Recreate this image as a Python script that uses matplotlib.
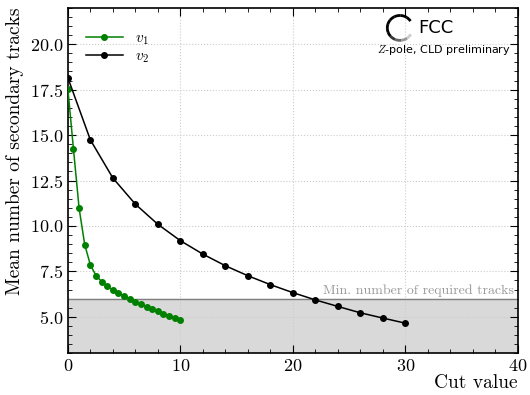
import numpy as np
import matplotlib
matplotlib.use("Agg")
import matplotlib.pyplot as plt
from matplotlib.patches import Arc
from matplotlib.ticker import MultipleLocator

plt.rcParams['font.family'] = 'serif'
plt.rcParams['font.serif'] = ['cmr10']
plt.rcParams['mathtext.fontset'] = 'cm'
plt.rcParams['axes.formatter.use_mathtext'] = True

# Data
v1_x = [0, 0.5, 1, 1.5, 2, 2.5, 3, 3.5, 4, 4.5, 5, 5.5, 6, 6.5, 7, 7.5, 8, 8.5, 9, 9.5, 10]
v1_y = [17.55, 14.23, 10.98, 8.97, 7.86, 7.27, 6.94, 6.68, 6.48, 6.31, 6.15,
        6.00, 5.83, 5.68, 5.56, 5.43, 5.30, 5.17, 5.06, 4.95, 4.84]
v2_x = [0, 2, 4, 6, 8, 10, 12, 14, 16, 18, 20, 22, 24, 26, 28, 30]
v2_y = [18.16, 14.74, 12.64, 11.20, 10.09, 9.19, 8.45, 7.81, 7.26, 6.77,
        6.33, 5.93, 5.57, 5.22, 4.93, 4.65]
min_required = 6.0

fig = plt.figure(figsize=(5.3, 3.95), dpi=100)
ax = fig.add_axes([0.128, 0.106, 0.849, 0.874])

ax.axhspan(3, min_required, color='#d9d9d9', zorder=0)
ax.axhline(min_required, color='#808080', lw=1.0, zorder=1)
ax.text(39.7, min_required + 0.08, 'Min. number of required tracks', color='#999999',
        ha='right', va='bottom', fontsize=10)

ax.plot(v1_x, v1_y, color='green', marker='o', ms=4, lw=1.1, label=r'$v_1$', zorder=3)
ax.plot(v2_x, v2_y, color='black', marker='o', ms=4, lw=1.1, label=r'$v_2$', zorder=3)

ax.set_xlim(0, 40)
ax.set_ylim(3, 22)
ax.xaxis.set_major_locator(MultipleLocator(10))
ax.xaxis.set_minor_locator(MultipleLocator(2))
ax.yaxis.set_major_locator(MultipleLocator(2.5))
ax.yaxis.set_minor_locator(MultipleLocator(0.5))
ax.tick_params(which='both', direction='in', top=True, right=True, labelsize=13)
ax.tick_params(which='major', length=6)
ax.tick_params(which='minor', length=3)
ax.grid(True, which='major', ls=':', color='#cccccc', lw=0.8)
ax.set_axisbelow(True)
for s in ax.spines.values():
    s.set_linewidth(1.2)

ax.set_xlabel('Cut value', fontsize=14, loc='right', labelpad=0)
ax.set_ylabel('Mean number of secondary tracks', fontsize=14, loc='top')

ax.legend(loc='upper left', frameon=False, fontsize=11, bbox_to_anchor=(0.01, 0.97),
          handlelength=2.4, labelspacing=0.15)

# FCC logo
for i in range(12):
    a0 = 40 + i * 23.5
    g = min(0.85, (i - 7) * 0.2) if i > 7 else 0.0
    ax.add_patch(Arc((0.738, 0.942), 0.056, 0.072, theta1=a0, theta2=a0 + 24,
                     transform=ax.transAxes, color=str(g), lw=2.0))
ax.text(0.778, 0.942, 'FCC', transform=ax.transAxes, fontsize=13, va='center',
        ha='left', family='DejaVu Sans')
ax.text(0.985, 0.878, r'$\mathit{Z}$-pole, CLD preliminary', transform=ax.transAxes,
        fontsize=8, va='center', ha='right', family='DejaVu Sans')

fig.savefig('out.png', dpi=100)
